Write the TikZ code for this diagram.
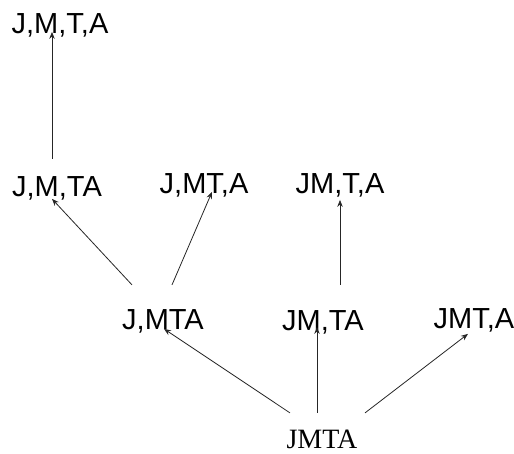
\documentclass[tikz,border=0pt]{standalone}
\usepackage{fontspec}
\setmainfont{Liberation Sans}
\newfontfamily\serifface{Liberation Serif}
\usetikzlibrary{arrows.meta,calc}
\tikzset{
  lbl/.style={anchor=base,inner sep=0pt,font=\fontsize{29}{31}\selectfont},
  slbl/.style={anchor=base,inner sep=0pt,font=\serifface\fontsize{28}{31}\selectfont},
  conn/.style={draw=black!85,line width=0.8pt,-{Stealth[length=7pt,width=5.5pt]}}
}
\begin{document}
\begin{tikzpicture}[x=1pt,y=-1pt]
\useasboundingbox (0,0) rectangle (514,453);
\node[lbl] (n1) at (60,33) {J,M,T,A};
\node[lbl] (n2) at (57,196) {J,M,TA};
\node[lbl] (n3) at (204,193) {J,MT,A};
\node[lbl] (n4) at (340,193) {JM,T,A};
\node[lbl] (n5) at (163,329) {J,MTA};
\node[lbl] (n6) at (323,330) {JM,TA};
\node[lbl] (n7) at (474,328) {JMT,A};
\node[slbl] (n8) at (322,448) {JMTA};
\draw[conn] ($(n2)+(-5,-29)$) -- ($(n1)+(-8,7)$);
\draw[conn] ($(n5)+(-31,-36)$) -- ($(n2)+(-5,11)$);
\draw[conn] ($(n5)+(9,-36)$) -- ($(n3)+(8,7)$);
\draw[conn] ($(n6)+(17,-37)$) -- ($(n4)+(0,15)$);
\draw[conn] ($(n8)+(-32,-26)$) -- ($(n5)+(1,8)$);
\draw[conn] ($(n8)+(-5,-26)$) -- ($(n6)+(-6,5)$);
\draw[conn] ($(n8)+(43,-26)$) -- ($(n7)+(-6,14)$);
\end{tikzpicture}
\end{document}
